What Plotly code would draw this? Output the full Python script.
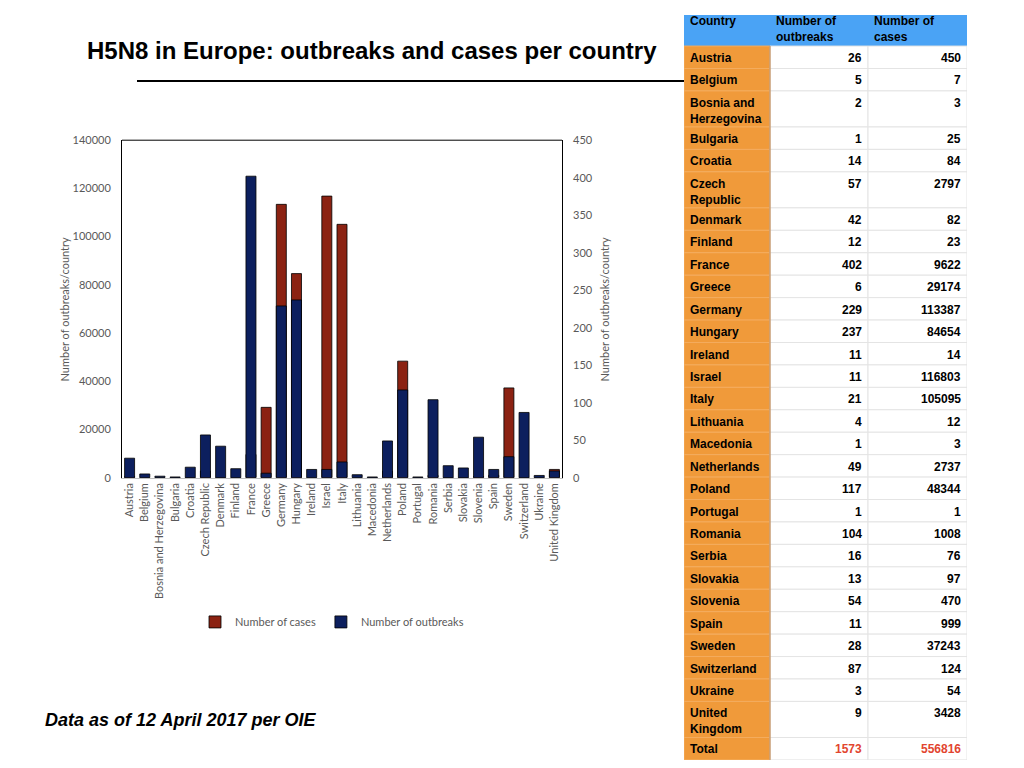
import plotly.graph_objects as go

# Mapping from reference-picture pixels to figure pixels (page offset / scale)
OFF_X = 8
OFF_Y = 15
SCALE_Y = 0.9816
W, H = 1008, 768

countries = ["Austria", "Belgium", "Bosnia and Herzegovina", "Bulgaria", "Croatia",
             "Czech Republic", "Denmark", "Finland", "France", "Greece", "Germany",
             "Hungary", "Ireland", "Israel", "Italy", "Lithuania", "Macedonia",
             "Netherlands", "Poland", "Portugal", "Romania", "Serbia", "Slovakia",
             "Slovenia", "Spain", "Sweden", "Switzerland", "Ukraine", "United Kingdom"]
outbreaks = [26, 5, 2, 1, 14, 57, 42, 12, 402, 6, 229, 237, 11, 11, 21, 4, 1,
             49, 117, 1, 104, 16, 13, 54, 11, 28, 87, 3, 9]
cases = [450, 7, 3, 25, 84, 2797, 82, 23, 9622, 29174, 113387, 84654, 14, 116803,
         105095, 12, 3, 2737, 48344, 1, 1008, 76, 97, 470, 999, 37243, 124, 54, 3428]
table_labels = ["Austria", "Belgium", "Bosnia and<br>Herzegovina", "Bulgaria", "Croatia",
                "Czech<br>Republic", "Denmark", "Finland", "France", "Greece", "Germany",
                "Hungary", "Ireland", "Israel", "Italy", "Lithuania", "Macedonia",
                "Netherlands", "Poland", "Portugal", "Romania", "Serbia", "Slovakia",
                "Slovenia", "Spain", "Sweden", "Switzerland", "Ukraine", "United<br>Kingdom"]
total_label = "Total"
total_outbreaks = 1573
total_cases = 556816
header_labels = ["Country", "Number of<br>outbreaks", "Number of<br>cases"]

NAVY = "#0C1F5E"
RED = "#8B2212"
GRAY = "#595959"
CFONT = "Lato"
TFONT = "Liberation Sans"
ORANGE = "#F09A3A"
BLUE = "#4AA3F5"


def px_x(p):
    return (p - OFF_X) / W


def px_y(p):
    return 1 - ((p - OFF_Y) / SCALE_Y) / H


fig = go.Figure()

# ---------------- bar chart ----------------
fig.add_trace(go.Bar(
    x=countries, y=cases, name="Number of cases",
    marker=dict(color=RED, line=dict(color="black", width=0.8)),
    width=0.66, yaxis="y", xaxis="x", hoverinfo="x+y",
))
fig.add_trace(go.Bar(
    x=countries, y=outbreaks, name="Number of outbreaks",
    marker=dict(color=NAVY, line=dict(color="black", width=0.8)),
    width=0.66, yaxis="y2", xaxis="x", hoverinfo="x+y",
))

# ---------------- table (own cartesian axes, units = reference px) ----------------
COL_W = [86, 98, 99]
TBL_TOP = 8
HEAD_H = 38
ROW_H1 = 22.4
ROW_H2 = 36
PAD = 4

col_x0 = [sum(COL_W[:i]) for i in range(len(COL_W))]
tbl_w = sum(COL_W)

row_text0 = table_labels + [total_label]
row_text1 = [str(v) for v in outbreaks] + [str(total_outbreaks)]
row_text2 = [str(v) for v in cases] + [str(total_cases)]
row_h = [ROW_H2 if "<br>" in t else ROW_H1 for t in row_text0]
row_top = []
acc = TBL_TOP + HEAD_H
for h in row_h:
    row_top.append(acc)
    acc += h
tbl_bottom = acc
row_mid = [t + h / 2 for t, h in zip(row_top, row_h)]
n_rows = len(row_text0)

# header
fig.add_trace(go.Bar(
    orientation="h", y=[TBL_TOP + HEAD_H / 2] * 3, x=COL_W, base=col_x0, width=HEAD_H,
    marker=dict(color=BLUE, line=dict(color=BLUE, width=1)),
    xaxis="x3", yaxis="y3", showlegend=False, hoverinfo="skip",
))
# body columns
col_fill = [ORANGE, "white", "white"]
col_line = ["#F4AC5E", "#E4E4E4", "#E4E4E4"]
for j in range(3):
    fig.add_trace(go.Bar(
        orientation="h", y=row_mid, x=[COL_W[j]] * n_rows, base=[col_x0[j]] * n_rows,
        width=row_h,
        marker=dict(color=col_fill[j], line=dict(color=col_line[j], width=1)),
        xaxis="x3", yaxis="y3", showlegend=False, hoverinfo="skip",
    ))

# darker border right of the country column
fig.add_shape(type="line", xref="x3", yref="y3", x0=COL_W[0], x1=COL_W[0],
              y0=TBL_TOP + HEAD_H, y1=tbl_bottom, line=dict(color="#B97A3E", width=1),
              layer="above")

# header text (paper y so it is not hidden above the table axis range)
for j, h in enumerate(header_labels):
    fig.add_annotation(text=f"<b>{h}</b>", xref="x3", yref="paper",
                       x=col_x0[j] + PAD, y=px_y(TBL_TOP + 4), xanchor="left",
                       yanchor="top", showarrow=False, align="left",
                       font=dict(family=TFONT, size=12, color="black"))

# body text
for i in range(n_rows):
    is_total = i == n_rows - 1
    num_color = "#E2452F" if is_total else "black"
    fig.add_annotation(text=f"<b>{row_text0[i]}</b>", xref="x3", yref="y3",
                       x=col_x0[0] + PAD, y=row_top[i] + 3, xanchor="left",
                       yanchor="top", showarrow=False, align="left",
                       font=dict(family=TFONT, size=12, color="black"))
    fig.add_annotation(text=f"<b>{row_text1[i]}</b>", xref="x3", yref="y3",
                       x=col_x0[1] + COL_W[1] - PAD, y=row_top[i] + 3, xanchor="right",
                       yanchor="top", showarrow=False, align="right",
                       font=dict(family=TFONT, size=12, color=num_color))
    fig.add_annotation(text=f"<b>{row_text2[i]}</b>", xref="x3", yref="y3",
                       x=col_x0[2] + COL_W[2] - PAD, y=row_top[i] + 3, xanchor="right",
                       yanchor="top", showarrow=False, align="right",
                       font=dict(family=TFONT, size=12, color=num_color))

fig.update_layout(
    width=W, height=H,
    margin=dict(l=0, r=0, t=0, b=0),
    paper_bgcolor="white", plot_bgcolor="white",
    barmode="overlay",
    showlegend=True,
    legend=dict(orientation="h", x=px_x(332), y=px_y(621), xanchor="center",
                yanchor="middle", font=dict(family=CFONT, size=11, color=GRAY),
                traceorder="normal", itemwidth=30, bgcolor="rgba(0,0,0,0)"),
    xaxis=dict(domain=[px_x(122), px_x(562)], anchor="y",
               tickangle=-90, tickfont=dict(family=CFONT, size=11, color=GRAY),
               showline=True, linecolor="#BFBFBF", linewidth=1, ticks="",
               showgrid=False, range=[-0.5, len(countries) - 0.5], fixedrange=True),
    yaxis=dict(domain=[px_y(477), px_y(140)], anchor="x", range=[0, 140000],
               dtick=20000, tickformat="d", showgrid=False, zeroline=False,
               showline=True, linecolor="black", linewidth=1, mirror=True,
               ticks="", ticklabelstandoff=8,
               tickfont=dict(family=CFONT, size=11, color=GRAY), fixedrange=True),
    yaxis2=dict(overlaying="y", side="right", anchor="x", range=[0, 450],
                dtick=50, showgrid=False, zeroline=False, showline=False,
                ticks="", ticklabelstandoff=10,
                tickfont=dict(family=CFONT, size=11, color=GRAY), fixedrange=True),
    xaxis3=dict(domain=[px_x(684), px_x(967)], anchor="y3", range=[0, tbl_w],
                visible=False, fixedrange=True),
    yaxis3=dict(domain=[px_y(tbl_bottom), px_y(OFF_Y)], anchor="x3",
                range=[tbl_bottom, OFF_Y], visible=False, fixedrange=True),
)

# top border of the plot area
fig.add_shape(type="line", xref="paper", yref="paper",
              x0=px_x(122), x1=px_x(562), y0=px_y(140), y1=px_y(140),
              line=dict(color="black", width=1))
# divider line under the title
fig.add_shape(type="line", xref="paper", yref="paper",
              x0=px_x(137), x1=px_x(684), y0=px_y(81), y1=px_y(81),
              line=dict(color="black", width=2), layer="below")

fig.add_annotation(text="<b>H5N8 in Europe: outbreaks and cases per country</b>",
                   x=px_x(85), y=px_y(50), xref="paper", yref="paper",
                   xanchor="left", yanchor="middle", showarrow=False,
                   font=dict(family=TFONT, size=24, color="black"))
fig.add_annotation(text="<b><i>Data as of 12 April 2017 per OIE</i></b>",
                   x=px_x(43), y=px_y(719), xref="paper", yref="paper",
                   xanchor="left", yanchor="middle", showarrow=False,
                   font=dict(family=TFONT, size=18, color="black"))
fig.add_annotation(text="Number of outbreaks/country", textangle=-90,
                   x=px_x(64), y=px_y(309), xref="paper", yref="paper",
                   xanchor="center", yanchor="middle", showarrow=False,
                   font=dict(family=CFONT, size=11, color=GRAY))
fig.add_annotation(text="Number of outbreaks/country", textangle=-90,
                   x=px_x(604), y=px_y(309), xref="paper", yref="paper",
                   xanchor="center", yanchor="middle", showarrow=False,
                   font=dict(family=CFONT, size=11, color=GRAY))

fig.write_html("out.html")
